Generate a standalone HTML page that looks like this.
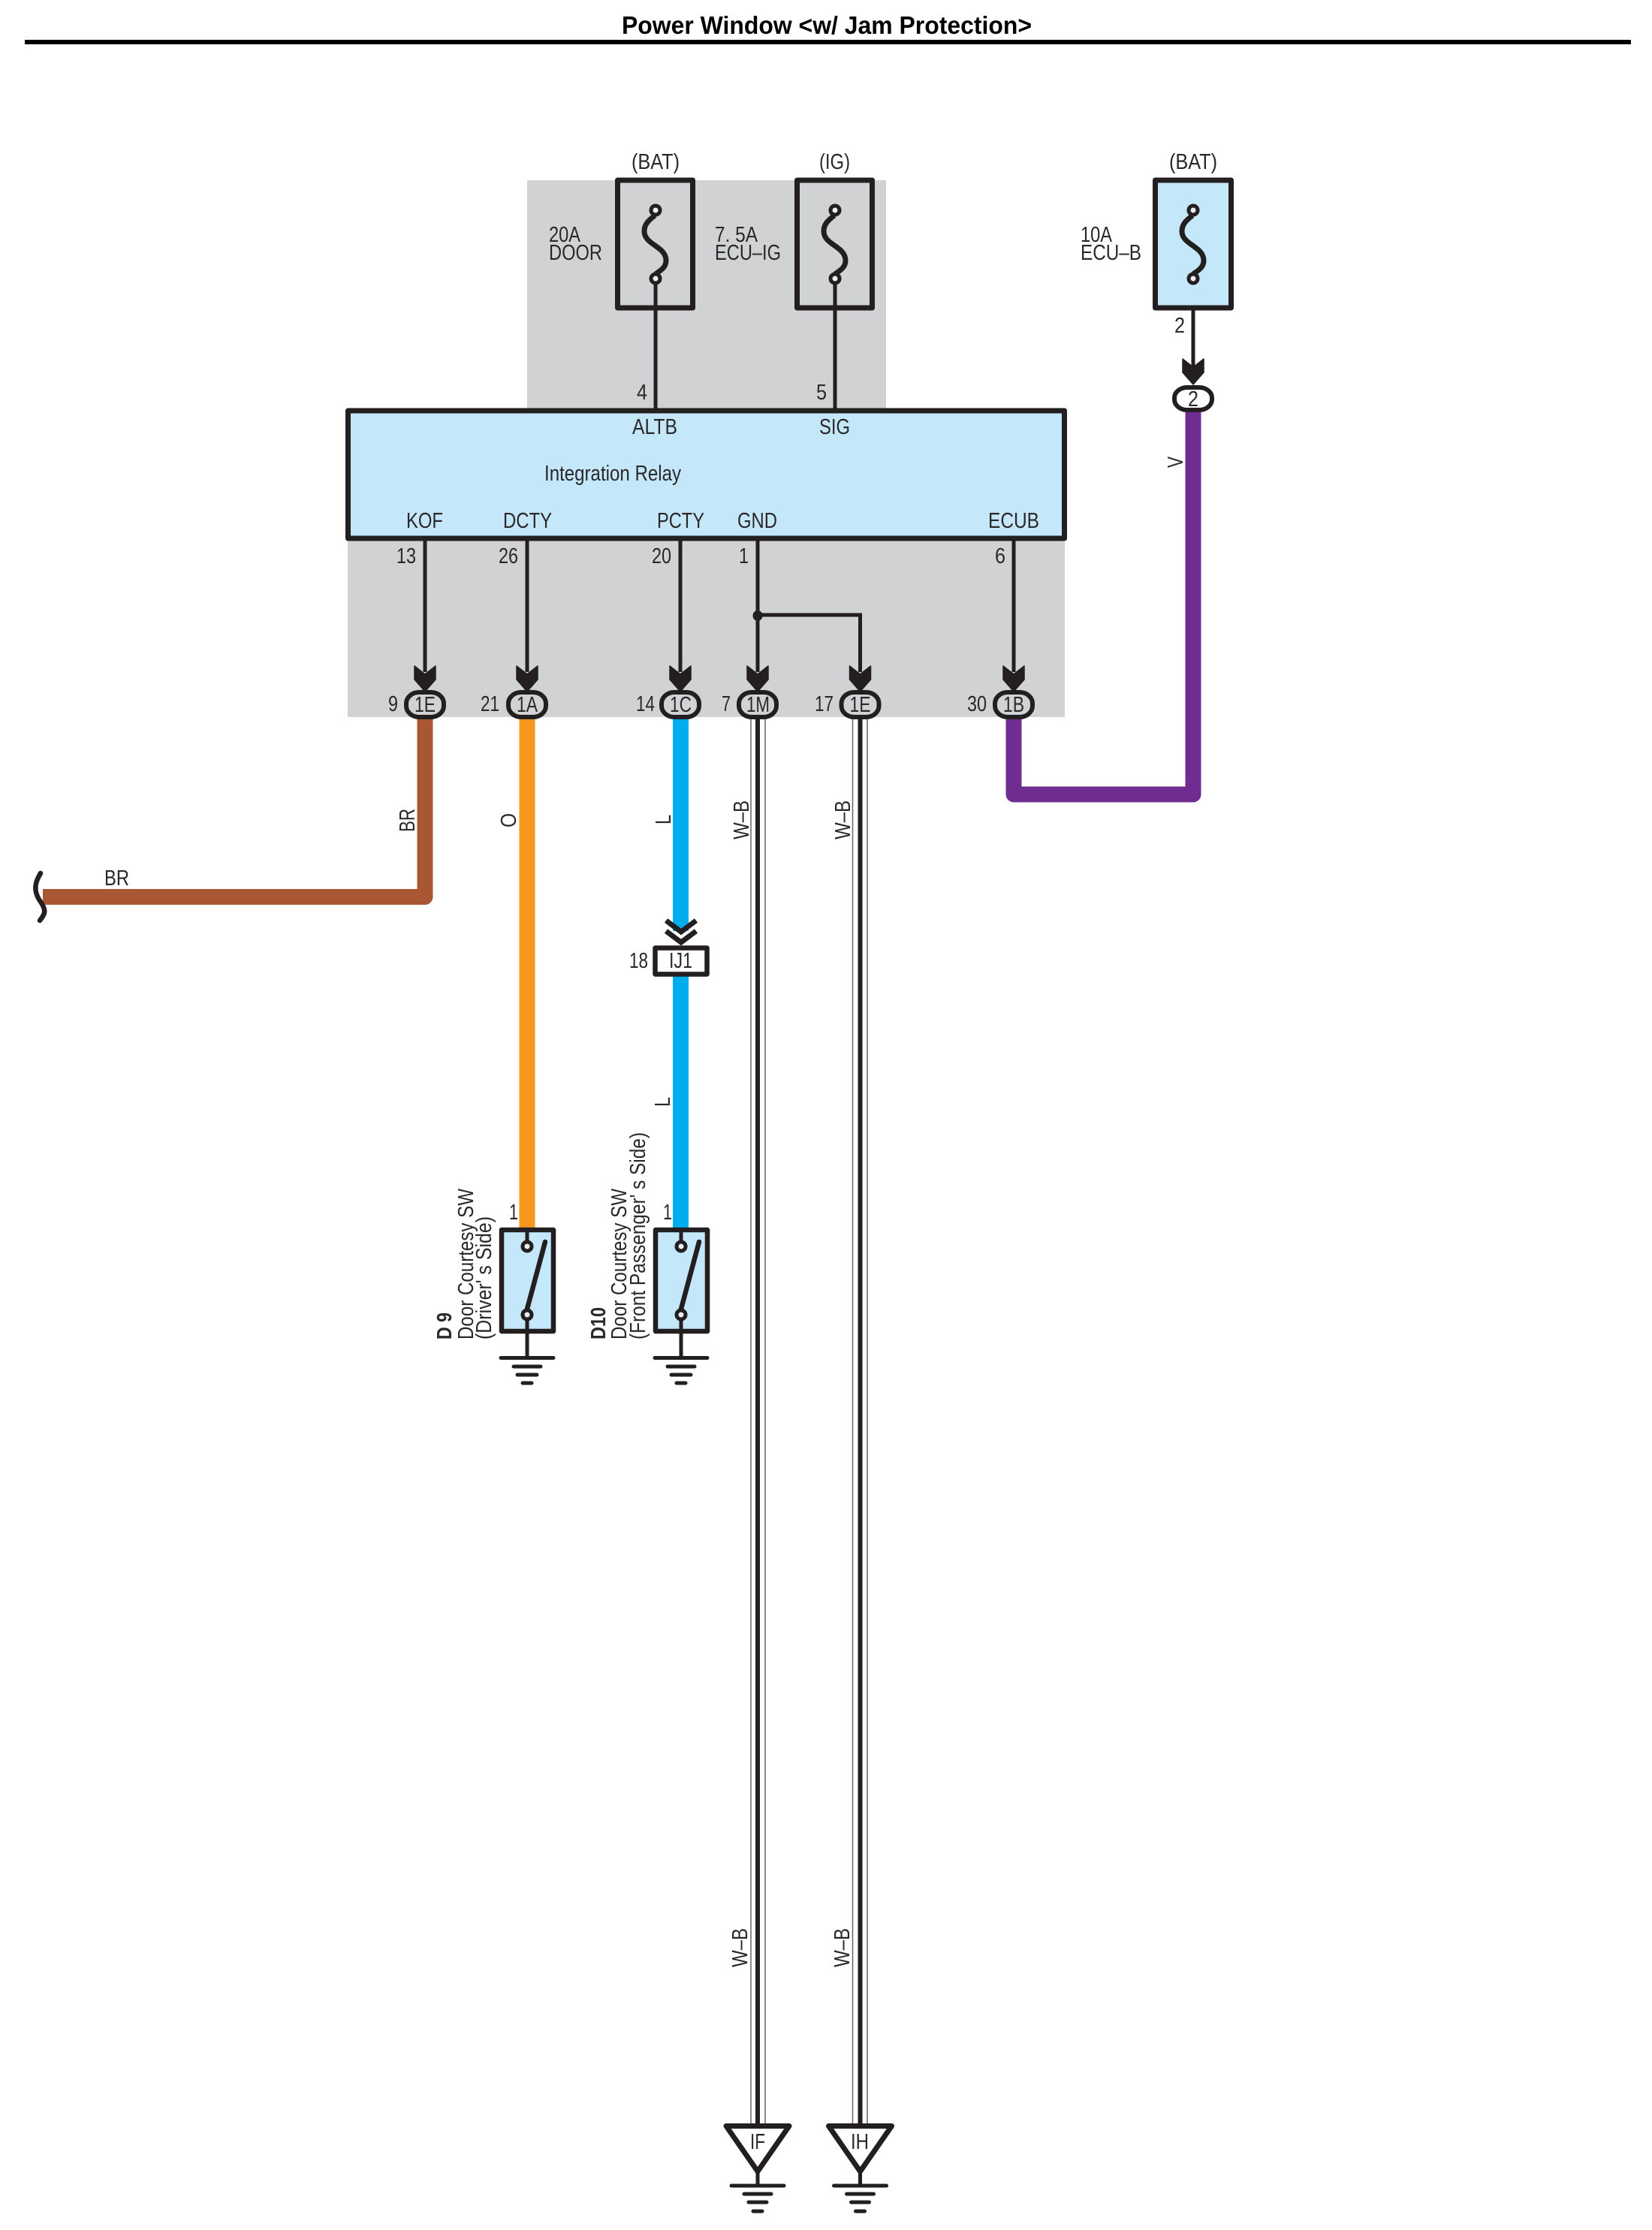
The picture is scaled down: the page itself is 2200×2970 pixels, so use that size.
<!DOCTYPE html>
<html lang="en">
<head>
<meta charset="utf-8">
<title>Power Window &lt;w/ Jam Protection&gt;</title>
<style>
html,body{margin:0;padding:0;background:#fff}
svg{display:block}
text{font-family:"Liberation Sans",Arial,sans-serif;font-size:28.5px;fill:#2a2829}
.t{font-weight:bold;fill:#000;font-size:33px}
.b{font-weight:bold;font-size:28px}
</style>
</head>
<body>
<svg xmlns="http://www.w3.org/2000/svg" width="2200" height="2970" viewBox="0 0 2200 2970">
<defs>
<path id="arrow" d="M-14,887 L0,898 L14,887 L14,905 L0,921 L-14,905 Z" fill="#231f20" stroke="#231f20" stroke-width="1.500" stroke-linejoin="round"/>
<g id="fuse" fill="none" stroke="#231f20">
<path d="M-1,287 C-10,294 -15,299 -15,308 C-15,326 14,328 14,347 C14,356 7,360 0,365" stroke-width="7"/>
<circle cx="0" cy="280" r="6" stroke-width="5" fill="#e8eef2"/>
<circle cx="0" cy="371" r="6" stroke-width="5" fill="#e8eef2"/>
</g>
<g id="swi" stroke="#231f20" fill="none">
<rect x="-34" y="1638" width="69" height="135" stroke-width="6.500" fill="#c5e7fa" stroke-linejoin="round"/>
<path d="M0,1638 V1654" stroke-width="5"/>
<path d="M-1,1747 L24,1654" stroke-width="6.500" stroke-linecap="round"/>
<circle cx="0" cy="1660" r="6" stroke-width="5" fill="#e8eef2"/>
<circle cx="0" cy="1751" r="6" stroke-width="5" fill="#e8eef2"/>
<path d="M0,1757 V1808" stroke-width="5"/>
<path d="M-35,1808.500 H35" stroke-width="5" stroke-linecap="round"/>
<path d="M-18,1820 H18" stroke-width="5" stroke-linecap="round"/>
<path d="M-13,1831 H13" stroke-width="5" stroke-linecap="round"/>
<path d="M-6,1842 H6" stroke-width="5" stroke-linecap="round"/>
</g>
<g id="gnd" stroke="#231f20" fill="none">
<path d="M-42,2831.500 H42 L0,2892 Z" stroke-width="7" stroke-linejoin="round" fill="#fff"/>
<path d="M0,2892 V2911" stroke-width="5"/>
<path d="M-35,2911 H35" stroke-width="5" stroke-linecap="round"/>
<path d="M-18,2922 H18" stroke-width="5" stroke-linecap="round"/>
<path d="M-12,2933 H12" stroke-width="5" stroke-linecap="round"/>
<path d="M-6,2945 H6" stroke-width="5" stroke-linecap="round"/>
</g>
</defs>

<rect width="2200" height="2970" fill="#fff"/>

<text class="t" x="828" y="45" textLength="546" lengthAdjust="spacingAndGlyphs">Power Window &lt;w/ Jam Protection&gt;</text>
<rect x="33" y="53" width="2139" height="6" fill="#000"/>

<!-- gray zones -->
<rect x="702" y="240" width="478" height="310" fill="#d0d2d3"/>
<rect x="463" y="716" width="955" height="239" fill="#d0d2d3"/>

<!-- top wires -->
<path d="M873,371 V547 M1112,371 V547" stroke="#231f20" stroke-width="5" fill="none"/>
<path d="M1589,371 V500" stroke="#231f20" stroke-width="5" fill="none"/>

<!-- fuses -->
<rect x="822.500" y="240" width="100" height="170" fill="none" stroke="#231f20" stroke-width="7" stroke-linejoin="round"/>
<rect x="1061.500" y="240" width="100" height="170" fill="none" stroke="#231f20" stroke-width="7" stroke-linejoin="round"/>
<rect x="1538.500" y="240" width="101" height="170" fill="#c5e7fa" stroke="#231f20" stroke-width="7" stroke-linejoin="round"/>
<use href="#fuse" x="873"/>
<use href="#fuse" x="1112"/>
<use href="#fuse" x="1589"/>

<text x="841" y="225" textLength="64" lengthAdjust="spacingAndGlyphs">(BAT)</text>
<text x="1091" y="225" textLength="41" lengthAdjust="spacingAndGlyphs">(IG)</text>
<text x="1557" y="225" textLength="64" lengthAdjust="spacingAndGlyphs">(BAT)</text>
<text x="731" y="322" textLength="42" lengthAdjust="spacingAndGlyphs">20A</text>
<text x="731" y="346" textLength="71" lengthAdjust="spacingAndGlyphs">DOOR</text>
<text x="952" y="322" textLength="57" lengthAdjust="spacingAndGlyphs">7. 5A</text>
<text x="952" y="346" textLength="88" lengthAdjust="spacingAndGlyphs">ECU–IG</text>
<text x="1439" y="322" textLength="42" lengthAdjust="spacingAndGlyphs">10A</text>
<text x="1439" y="346" textLength="81" lengthAdjust="spacingAndGlyphs">ECU–B</text>
<text x="848" y="532" textLength="14" lengthAdjust="spacingAndGlyphs">4</text>
<text x="1087" y="532" textLength="14" lengthAdjust="spacingAndGlyphs">5</text>
<text x="1564" y="443" textLength="14" lengthAdjust="spacingAndGlyphs">2</text>

<!-- relay -->
<rect x="463.500" y="547" width="954" height="170" fill="#c5e7fa" stroke="#231f20" stroke-width="7" stroke-linejoin="round"/>
<text x="842" y="578" textLength="60" lengthAdjust="spacingAndGlyphs">ALTB</text>
<text x="1091" y="578" textLength="41" lengthAdjust="spacingAndGlyphs">SIG</text>
<text x="725" y="640" textLength="182" lengthAdjust="spacingAndGlyphs">Integration Relay</text>
<text x="541" y="703" textLength="49" lengthAdjust="spacingAndGlyphs">KOF</text>
<text x="670" y="703" textLength="65" lengthAdjust="spacingAndGlyphs">DCTY</text>
<text x="875" y="703" textLength="63" lengthAdjust="spacingAndGlyphs">PCTY</text>
<text x="982" y="703" textLength="53" lengthAdjust="spacingAndGlyphs">GND</text>
<text x="1316" y="703" textLength="68" lengthAdjust="spacingAndGlyphs">ECUB</text>

<!-- relay pin wires -->
<path d="M566,719 V895 M702,719 V895 M906,719 V895 M1009,719 V895 M1350,719 V895" stroke="#231f20" stroke-width="5" fill="none"/>
<path d="M1009,819 H1145.500 V895" stroke="#231f20" stroke-width="5" fill="none"/>
<ellipse cx="1009" cy="820" rx="6.500" ry="7" fill="#231f20"/>

<text x="528" y="750" textLength="26" lengthAdjust="spacingAndGlyphs">13</text>
<text x="664" y="750" textLength="26" lengthAdjust="spacingAndGlyphs">26</text>
<text x="868" y="750" textLength="26" lengthAdjust="spacingAndGlyphs">20</text>
<text x="984" y="750" textLength="13" lengthAdjust="spacingAndGlyphs">1</text>
<text x="1325" y="750" textLength="14" lengthAdjust="spacingAndGlyphs">6</text>

<!-- coloured wires -->
<path d="M566,950 V1194.500 H57" fill="none" stroke="#a95732" stroke-width="21" stroke-linejoin="round"/>
<path d="M702,950 V1640" fill="none" stroke="#f7971e" stroke-width="21"/>
<path d="M906.500,950 V1240" fill="none" stroke="#00aeef" stroke-width="21"/>
<path d="M906.500,1298 V1640" fill="none" stroke="#00aeef" stroke-width="21"/>
<path d="M1350,950 V1058 H1589 V545" fill="none" stroke="#6f2c91" stroke-width="21" stroke-linejoin="round"/>

<!-- break mark -->
<path d="M54,1163 C46,1176 45,1186 52,1198 C62,1212 61,1216 53,1226" fill="none" stroke="#231f20" stroke-width="6.500" stroke-linecap="round"/>

<!-- W-B wires -->
<path d="M1000,950 V2830 M1019,950 V2830 M1135.500,950 V2830 M1155,950 V2830" stroke="#666" stroke-width="1.500" fill="none"/>
<path d="M1009,950 V2830 M1145.500,950 V2830" stroke="#231f20" stroke-width="6" fill="none"/>

<!-- connectors row -->
<g fill="#d0d2d3" stroke="#231f20" stroke-width="6">
<rect x="541" y="922" width="50" height="33" rx="17" ry="15"/>
<rect x="677" y="922" width="50" height="33" rx="17" ry="15"/>
<rect x="881" y="922" width="50" height="33" rx="17" ry="15"/>
<rect x="984" y="922" width="50" height="33" rx="17" ry="15"/>
<rect x="1120.500" y="922" width="50" height="33" rx="17" ry="15"/>
<rect x="1325" y="922" width="50" height="33" rx="17" ry="15"/>
</g>
<rect x="1564" y="516" width="50" height="30" rx="17" ry="14" fill="#fff" stroke="#231f20" stroke-width="6"/>
<use href="#arrow" x="566"/>
<use href="#arrow" x="702"/>
<use href="#arrow" x="906"/>
<use href="#arrow" x="1009"/>
<use href="#arrow" x="1145.500"/>
<use href="#arrow" x="1350"/>
<use href="#arrow" x="1589" y="-409"/>

<text x="552" y="948" textLength="28" lengthAdjust="spacingAndGlyphs">1E</text>
<text x="688" y="948" textLength="28" lengthAdjust="spacingAndGlyphs">1A</text>
<text x="892" y="948" textLength="29" lengthAdjust="spacingAndGlyphs">1C</text>
<text x="994" y="948" textLength="31" lengthAdjust="spacingAndGlyphs">1M</text>
<text x="1131.500" y="948" textLength="28" lengthAdjust="spacingAndGlyphs">1E</text>
<text x="1336" y="948" textLength="28" lengthAdjust="spacingAndGlyphs">1B</text>
<text x="1582" y="541" textLength="14" lengthAdjust="spacingAndGlyphs">2</text>
<text x="517" y="947" textLength="13" lengthAdjust="spacingAndGlyphs">9</text>
<text x="640" y="947" textLength="25" lengthAdjust="spacingAndGlyphs">21</text>
<text x="847" y="947" textLength="25" lengthAdjust="spacingAndGlyphs">14</text>
<text x="961" y="947" textLength="12" lengthAdjust="spacingAndGlyphs">7</text>
<text x="1085" y="947" textLength="25" lengthAdjust="spacingAndGlyphs">17</text>
<text x="1288" y="947" textLength="26" lengthAdjust="spacingAndGlyphs">30</text>

<!-- wire labels -->
<text x="139" y="1179" textLength="33" lengthAdjust="spacingAndGlyphs">BR</text>
<text transform="translate(552,1108) rotate(-90)" textLength="31" lengthAdjust="spacingAndGlyphs">BR</text>
<text transform="translate(687,1102) rotate(-90)" textLength="19" lengthAdjust="spacingAndGlyphs">O</text>
<text transform="translate(893,1098) rotate(-90)" textLength="13" lengthAdjust="spacingAndGlyphs">L</text>
<text transform="translate(892,1474) rotate(-90)" textLength="13" lengthAdjust="spacingAndGlyphs">L</text>
<text transform="translate(1575,623) rotate(-90)" textLength="15" lengthAdjust="spacingAndGlyphs">V</text>
<text transform="translate(997,1118) rotate(-90)" textLength="52" lengthAdjust="spacingAndGlyphs">W–B</text>
<text transform="translate(1132,1118) rotate(-90)" textLength="52" lengthAdjust="spacingAndGlyphs">W–B</text>
<text transform="translate(995,2620) rotate(-90)" textLength="52" lengthAdjust="spacingAndGlyphs">W–B</text>
<text transform="translate(1131,2620) rotate(-90)" textLength="52" lengthAdjust="spacingAndGlyphs">W–B</text>

<!-- IJ1 junction -->
<path d="M887,1226 L907,1241 L927,1226" fill="none" stroke="#231f20" stroke-width="7"/>
<path d="M887,1240 L907,1255 L927,1240" fill="none" stroke="#231f20" stroke-width="7"/>
<rect x="872.500" y="1262.500" width="69" height="35" fill="#fff" stroke="#231f20" stroke-width="6.500" stroke-linejoin="round"/>
<text x="891" y="1289" textLength="31" lengthAdjust="spacingAndGlyphs">IJ1</text>
<text x="838" y="1289" textLength="25" lengthAdjust="spacingAndGlyphs">18</text>

<!-- switches -->
<use href="#swi" x="702"/>
<use href="#swi" x="907"/>
<text x="678" y="1624" textLength="12" lengthAdjust="spacingAndGlyphs">1</text>
<text x="883" y="1624" textLength="12" lengthAdjust="spacingAndGlyphs">1</text>

<text class="b" transform="translate(601,1784) rotate(-90)" textLength="36" lengthAdjust="spacingAndGlyphs">D 9</text>
<text transform="translate(630,1784) rotate(-90)" textLength="201" lengthAdjust="spacingAndGlyphs">Door Courtesy SW</text>
<text transform="translate(654,1784) rotate(-90)" textLength="164" lengthAdjust="spacingAndGlyphs">(Driver' s Side)</text>
<text class="b" transform="translate(806,1784) rotate(-90)" textLength="43" lengthAdjust="spacingAndGlyphs">D10</text>
<text transform="translate(834,1784) rotate(-90)" textLength="201" lengthAdjust="spacingAndGlyphs">Door Courtesy SW</text>
<text transform="translate(859,1784) rotate(-90)" textLength="276" lengthAdjust="spacingAndGlyphs">(Front Passenger' s Side)</text>

<!-- grounds -->
<use href="#gnd" x="1009"/>
<use href="#gnd" x="1145.500"/>
<text x="999" y="2862" textLength="20" lengthAdjust="spacingAndGlyphs">IF</text>
<text x="1133" y="2862" textLength="24" lengthAdjust="spacingAndGlyphs">IH</text>
</svg>
</body>
</html>
